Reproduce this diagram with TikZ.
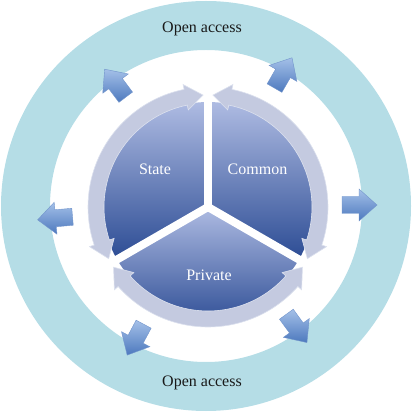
\documentclass[tikz,border=0pt]{standalone}
\usepackage{fontspec}
\setmainfont{Liberation Serif}
\definecolor{ringc}{HTML}{B5DDE6}
\definecolor{sectop}{HTML}{AEBBE2}
\definecolor{secbot}{HTML}{2C4C94}
\definecolor{bandc}{HTML}{C4CAE0}
\definecolor{bandl}{HTML}{DCE1EE}
\definecolor{arrl}{HTML}{A4C0E8}
\definecolor{arrd}{HTML}{4D79BE}
\tikzset{
  sector/.style={top color=sectop, bottom color=secbot},
  band/.style={fill=bandc, draw=bandl, line width=0.6pt},
  gapline/.style={white, line width=8pt, line cap=round},
  outarrow/.style={top color=arrl, bottom color=arrd, draw=arrd!80!white, line width=0.4pt},
  plainlabel/.style={font=\fontsize{16}{19}\selectfont, text=black!90},
  seclabel/.style={font=\fontsize{16}{19}\selectfont, text=white}
}
\newcommand\bandarc[2]{%
  \fill[band] ({#1}:112pt) -- ({#1+9}:125pt) -- ({#1+9}:120pt)
    arc[start angle={#1+9}, end angle={#2-9}, radius=120pt]
    -- ({#2-9}:125pt) -- ({#2}:112pt) -- ({#2-9}:99pt) -- ({#2-9}:104pt)
    arc[start angle={#2-9}, end angle={#1+9}, radius=104pt]
    -- ({#1+9}:99pt) -- cycle;}
\newcommand\blockarrow[1]{%
  \begin{scope}[shift={(#1:152pt)}, rotate=#1]
    \shade[outarrow] (-17,-8.5) -- (0,-8.5) -- (0,-16) -- (18,0) -- (0,16) -- (0,8.5) -- (-17,8.5) -- cycle;
  \end{scope}}
\begin{document}
\begin{tikzpicture}[x=1pt,y=1pt]
\useasboundingbox (0,0) rectangle (414,412);
\coordinate (RC) at (206,206);
\coordinate (PC) at (208,205);
\coordinate (AC) at (207,207);
% outer ring
\fill[ringc, even odd rule] (RC) circle[radius=205pt] (RC) circle[radius=156pt];
% outward arrows
\begin{scope}[shift={(AC)}]
  \blockarrow{0}
  \blockarrow{60}
  \blockarrow{127}
  \blockarrow{185}
  \blockarrow{242}
  \blockarrow{306}
\end{scope}
% pie
\begin{scope}[shift={(PC)}]
  \shade[sector] (0,0) -- (90:105pt) arc[start angle=90, end angle=210, radius=105pt] -- cycle;
  \shade[sector] (0,0) -- (-30:105pt) arc[start angle=-30, end angle=90, radius=105pt] -- cycle;
  \shade[sector] (0,0) -- (210:105pt) arc[start angle=210, end angle=330, radius=105pt] -- cycle;
  \draw[gapline] (0,0) -- (90:108pt);
  \draw[gapline] (0,0) -- (210:108pt);
  \draw[gapline] (0,0) -- (330:108pt);
  \bandarc{92.5}{207.5}
  \bandarc{-27.5}{87.5}
  \bandarc{212.5}{327.5}
\end{scope}
% labels
\node[plainlabel] (top) at (202,383) {Open access};
\node[plainlabel] (bottom) at (202,29) {Open access};
\node[seclabel] (state) at (155,243) {State};
\node[seclabel] (common) at (257.5,243) {Common};
\node[seclabel] (private) at (209,137) {Private};
\end{tikzpicture}
\end{document}
